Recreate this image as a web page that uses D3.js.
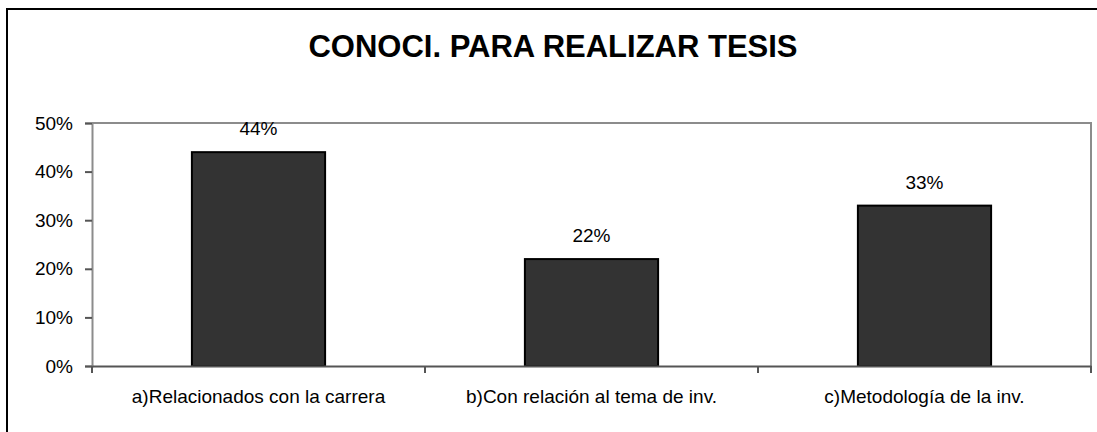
<!DOCTYPE html>
<html>
<head>
<meta charset="utf-8">
<script src="https://cdn.jsdelivr.net/npm/d3@7"></script>
<style>
  html, body { margin: 0; padding: 0; background: #fff; }
  svg { display: block; font-family: "Liberation Sans", Arial, sans-serif; }
</style>
</head>
<body>
<svg id="chart" width="1097" height="432"></svg>
<script>
const title = "CONOCI. PARA REALIZAR TESIS";
const categories = ["a)Relacionados con la carrera", "b)Con relación al tema de inv.", "c)Metodología de la inv."];
const values = [0.44, 0.22, 0.33];
const valueLabels = ["44%", "22%", "33%"];
const yTicks = [0, 0.1, 0.2, 0.3, 0.4, 0.5];

const svg = d3.select("#chart");
const W = 1097, H = 432;

// outer frame
svg.append("rect")
  .attr("x", 7).attr("y", 9)
  .attr("width", W + 10).attr("height", H + 10)
  .attr("fill", "#fff").attr("stroke", "#000").attr("stroke-width", 2);

const plot = { left: 92, right: 1091, top: 123, bottom: 366 };

const x = d3.scaleBand().domain(categories).range([plot.left, plot.right]).paddingInner(0).paddingOuter(0);
const y = d3.scaleLinear().domain([0, 0.5]).range([plot.bottom, plot.top]);

// title
svg.append("text")
  .attr("x", 553).attr("y", 57)
  .attr("text-anchor", "middle")
  .attr("font-size", 31).attr("font-weight", "bold")
  .attr("fill", "#000")
  .text(title);

// plot border (top & right)
svg.append("path")
  .attr("d", `M${plot.left},${plot.top}H${plot.right}V${plot.bottom}`)
  .attr("fill", "none").attr("stroke", "#8c8c8c").attr("stroke-width", 2);

// bars
const bw = x.bandwidth() * 0.4;
svg.selectAll("rect.bar").data(categories).enter().append("rect")
  .attr("class", "bar")
  .attr("x", (d) => x(d) + x.bandwidth() / 2 - bw / 2)
  .attr("y", (d, i) => y(values[i]))
  .attr("width", bw)
  .attr("height", (d, i) => plot.bottom - y(values[i]))
  .attr("fill", "#333333").attr("stroke", "#000").attr("stroke-width", 2);

// value labels
svg.selectAll("text.val").data(categories).enter().append("text")
  .attr("class", "val")
  .attr("x", (d) => x(d) + x.bandwidth() / 2)
  .attr("y", (d, i) => y(values[i]) - 17)
  .attr("text-anchor", "middle")
  .attr("font-size", 19).attr("fill", "#000")
  .text((d, i) => valueLabels[i]);

// y axis
const yAxis = d3.axisLeft(y).tickValues(yTicks).tickFormat(d3.format(".0%")).tickSize(7).tickPadding(12);
const gy = svg.append("g").attr("transform", `translate(${plot.left},0)`).call(yAxis);
gy.select(".domain").attr("stroke", "#8c8c8c").attr("stroke-width", 2);
gy.selectAll(".tick line").attr("stroke", "#555").attr("stroke-width", 2);
gy.selectAll(".tick text").attr("font-size", 19).attr("fill", "#000")
  .attr("font-family", "Liberation Sans, Arial, sans-serif");

// x axis
const xAxis = d3.axisBottom(x).tickSize(0).tickPadding(0).tickFormat(() => "");
const gx = svg.append("g").attr("transform", `translate(0,${plot.bottom})`).call(xAxis);
gx.select(".domain").attr("stroke", "#555").attr("stroke-width", 2);
// boundary ticks
const bounds = categories.map((d) => x(d)).concat([plot.right]);
gx.selectAll("line.bt").data(bounds).enter().append("line")
  .attr("class", "bt")
  .attr("x1", (d) => d).attr("x2", (d) => d)
  .attr("y1", 0).attr("y2", 7)
  .attr("stroke", "#555").attr("stroke-width", 2);
// category labels
gx.selectAll("text.cat").data(categories).enter().append("text")
  .attr("class", "cat")
  .attr("x", (d) => x(d) + x.bandwidth() / 2)
  .attr("y", 37)
  .attr("text-anchor", "middle")
  .attr("font-size", 19).attr("fill", "#000")
  .attr("font-family", "Liberation Sans, Arial, sans-serif")
  .text((d) => d);
</script>
</body>
</html>
